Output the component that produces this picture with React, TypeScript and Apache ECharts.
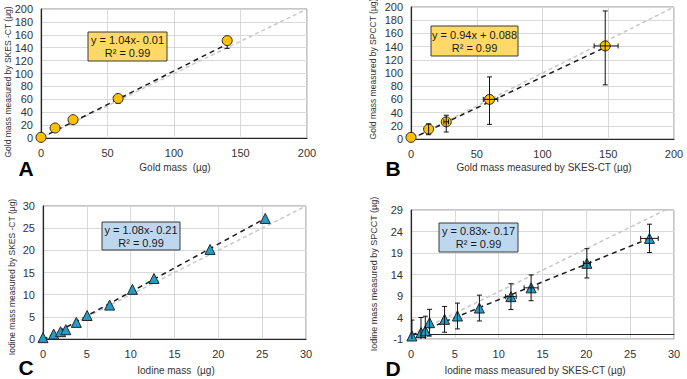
import React, { useEffect, useRef } from "react";
import * as echarts from "echarts";

// ---------- data ----------
// Panel A: gold mass vs SKES-CT
const aX = [0, 10.6, 24.1, 58, 140];
const aY = [1, 15.5, 28.4, 61.3, 151];
const aYLow = [1, 15.5, 28.4, 54, 139];
const aYHigh = [1, 15.5, 28.4, 61.3, 151];
const aTrend = [[0, -0.01], [140, 145.6]];
const aIdentity = [[0, 0], [200, 200]];

// Panel B: SKES-CT vs SPCCT (gold)
const bX = [0, 13.4, 26.8, 59.7, 147.7];
const bY = [2.5, 15, 26, 60, 141];
const bYLow = [2.5, 6.5, 10.6, 22.2, 82];
const bYHigh = [2.5, 23, 36, 94, 194];
const bXLow = [0, 13.4, 25, 55, 139.3];
const bXHigh = [0, 13.4, 28.5, 66, 157.5];
const bTrend = [[0, 0.09], [147.7, 138.9]];
const bIdentity = [[0, 0], [200, 200]];

// Panel C: iodine mass vs SKES-CT
const cX = [0, 1.22, 2.0, 2.6, 3.8, 5.03, 7.6, 10.2, 12.66, 19.06, 25.35];
const cY = [0.3, 1.1, 1.65, 2.1, 3.75, 5.3, 7.65, 11.2, 13.65, 20.2, 27.2];
const cTrend = [[0, -0.21], [25.35, 27.2]];
const cIdentity = [[0, 0], [30, 30]];

// Panel D: SKES-CT vs SPCCT (iodine)
const dX = [0.1, 1.14, 1.63, 2.12, 3.83, 5.3, 7.8, 11.4, 13.7, 20.06, 27.2];
const dY = [-0.3, 0.5, 0.9, 2.8, 3.57, 4.35, 6.2, 8.85, 10.9, 16.6, 22.4];
const dYErr = [3.7, 3.5, 3.4, 3.1, 3, 3, 3, 3, 3, 3.4, 3.3];
const dXErr = [0, 0, 0, 0, 0, 0, 0, 0.6, 0.8, 0.4, 1.0];
const dTrend = [[0.1, -0.09], [27.2, 22.4]];
const dIdentity = [[0, 0], [30, 30]];

// axis ticks
const goldTicks = { min: 0, max: 200, xInterval: 50, yInterval: 20 };
const iodineTicksC = { min: 0, max: 30, xInterval: 5, yInterval: 5 };
const iodineTicksD = { xMin: 0, xMax: 30, yMin: -1, yMax: 29, interval: 5 };

const FONT = "'Liberation Sans', Arial, sans-serif";
const GOLD = "#FFC000";
const BLUE = "#259BC8";

export default function App() {
  const ref = useRef<HTMLDivElement>(null);

  useEffect(() => {
    if (!ref.current) return;
    const chart = echarts.init(ref.current, undefined, { renderer: "svg" });

    const grids = [
      { left: 41, top: 9, width: 266, height: 129 },
      { left: 411, top: 7, width: 263, height: 132 },
      { left: 43, top: 206, width: 263, height: 133 },
      { left: 411, top: 210, width: 263, height: 129 },
    ].map((g) => ({ ...g, show: true, borderColor: "#8c8c8c", borderWidth: 1, backgroundColor: "transparent" }));

    const axisCommon = (gridIndex: number, min: number, max: number, interval: number, isX: boolean) => ({
      type: "value",
      gridIndex,
      min,
      max,
      interval,
      axisLine: { show: true, onZero: true, lineStyle: { color: "#262626", width: 1.2 } },
      axisTick: { show: false },
      splitLine: { show: true, lineStyle: { color: "#d9d9d9", width: 1 } },
      axisLabel: { color: "#333", fontSize: 11, fontFamily: FONT, margin: isX ? 9 : 8 },
    });

    const xAxis = [
      axisCommon(0, goldTicks.min, goldTicks.max, goldTicks.xInterval, true),
      axisCommon(1, goldTicks.min, goldTicks.max, goldTicks.xInterval, true),
      axisCommon(2, iodineTicksC.min, iodineTicksC.max, iodineTicksC.xInterval, true),
      axisCommon(3, iodineTicksD.xMin, iodineTicksD.xMax, iodineTicksD.interval, true),
    ];
    const yAxis = [
      axisCommon(0, goldTicks.min, goldTicks.max, goldTicks.yInterval, false),
      axisCommon(1, goldTicks.min, goldTicks.max, goldTicks.yInterval, false),
      axisCommon(2, iodineTicksC.min, iodineTicksC.max, iodineTicksC.yInterval, false),
      axisCommon(3, iodineTicksD.yMin, iodineTicksD.yMax, iodineTicksD.interval, false),
    ];

    const zip = (xs: number[], ys: number[]) => xs.map((x, i) => [x, ys[i]]);

    const lineSeries = (idx: number, data: number[][], color: string, width: number, dash: number[], z: number) => ({
      type: "line",
      xAxisIndex: idx,
      yAxisIndex: idx,
      data,
      symbol: "none",
      clip: true,
      silent: true,
      z,
      lineStyle: { color, width, type: dash },
    });

    const scatter = (idx: number, data: number[][], symbol: string, color: string, size: number) => ({
      type: "scatter",
      xAxisIndex: idx,
      yAxisIndex: idx,
      data,
      symbol,
      symbolSize: size,
      z: 5,
      itemStyle: { color, borderColor: "#262626", borderWidth: 1, opacity: 1 },
    });

    const errSeries = (idx: number, data: number[][], yMin: number, z: number) => ({
      type: "custom",
      xAxisIndex: idx,
      yAxisIndex: idx,
      data,
      clip: true,
      z,
      silent: true,
      encode: { x: 0, y: 1 },
      renderItem: (params: any, api: any) => {
        const x = api.value(0);
        const y = api.value(1);
        const rawLow = api.value(2);
        const yl = Math.max(rawLow, yMin);
        const yh = api.value(3);
        const xl = api.value(4);
        const xh = api.value(5);
        const children: any[] = [];
        const st = { stroke: "#111", lineWidth: 1 };
        const cap = 2.5;
        if (yh > yl) {
          const p1 = api.coord([x, yl]);
          const p2 = api.coord([x, yh]);
          children.push({ type: "line", shape: { x1: p1[0], y1: p1[1], x2: p2[0], y2: p2[1] }, style: st });
          if (yh > y)
            children.push({ type: "line", shape: { x1: p2[0] - cap, y1: p2[1], x2: p2[0] + cap, y2: p2[1] }, style: st });
          if (rawLow >= yMin && rawLow < y)
            children.push({ type: "line", shape: { x1: p1[0] - cap, y1: p1[1], x2: p1[0] + cap, y2: p1[1] }, style: st });
        }
        if (xh > xl) {
          const p1 = api.coord([xl, y]);
          const p2 = api.coord([xh, y]);
          children.push({ type: "line", shape: { x1: p1[0], y1: p1[1], x2: p2[0], y2: p2[1] }, style: st });
          children.push({ type: "line", shape: { x1: p1[0], y1: p1[1] - cap, x2: p1[0], y2: p1[1] + cap }, style: st });
          children.push({ type: "line", shape: { x1: p2[0], y1: p2[1] - cap, x2: p2[0], y2: p2[1] + cap }, style: st });
        }
        return { type: "group", children };
      },
    });

    const aErr = aX.map((x, i) => [x, aY[i], aYLow[i], aYHigh[i], x, x]);
    const bErr = bX.map((x, i) => [x, bY[i], bYLow[i], bYHigh[i], bXLow[i], bXHigh[i]]);
    const dErr = dX.map((x, i) => [x, dY[i], dY[i] - dYErr[i], dY[i] + dYErr[i], x - dXErr[i], x + dXErr[i]]);

    const series = [
      lineSeries(0, aIdentity, "#c8c8c8", 1.5, [4, 3], 2),
      lineSeries(0, aTrend, "#1a1a1a", 1.5, [5, 4], 3),
      errSeries(0, aErr, 0, 4),
      scatter(0, zip(aX, aY), "circle", GOLD, 10),

      lineSeries(1, bIdentity, "#c8c8c8", 1.5, [4, 3], 2),
      lineSeries(1, bTrend, "#1a1a1a", 1.5, [5, 4], 3),
      scatter(1, zip(bX, bY), "circle", GOLD, 10),
      errSeries(1, bErr, 0, 6),

      lineSeries(2, cIdentity, "#c8c8c8", 1.5, [4, 3], 2),
      lineSeries(2, cTrend, "#1a1a1a", 1.5, [5, 4], 3),
      scatter(2, zip(cX, cY), "triangle", BLUE, 10),

      lineSeries(3, dIdentity, "#c8c8c8", 1.5, [4, 3], 2),
      lineSeries(3, dTrend, "#1a1a1a", 1.5, [5, 4], 3),
      scatter(3, zip(dX, dY), "triangle", BLUE, 10),
      errSeries(3, dErr, -1, 6),
    ];

    const txt = (text: string, x: number, y: number, size: number, opts: any = {}) => ({
      type: "text",
      x,
      y,
      rotation: opts.rotation || 0,
      z: 20,
      style: {
        text,
        font: `${opts.bold ? "bold " : ""}${size}px ${FONT}`,
        fill: opts.color || "#333",
        textAlign: "center",
        textVerticalAlign: "middle",
        align: "center",
        verticalAlign: "middle",
      },
    });

    const box = (x: number, y: number, w: number, h: number, fill: string, line1: string, line2: string) => ({
      type: "group",
      z: 15,
      children: [
        { type: "rect", shape: { x, y, width: w, height: h }, style: { fill, stroke: "#3a3a3a", lineWidth: 1 }, z: 15 },
        txt(line1, x + w / 2, y + h / 2 - 6.5, 11, { color: "#1a1a1a" }),
        txt(line2, x + w / 2, y + h / 2 + 6.5, 11, { color: "#1a1a1a" }),
      ],
    });

    const graphic = [
      // panel letters
      txt("A", 26, 168, 21, { bold: true, color: "#000" }),
      txt("B", 393, 168, 21, { bold: true, color: "#000" }),
      txt("C", 26, 367, 21, { bold: true, color: "#000" }),
      txt("D", 393, 368, 21, { bold: true, color: "#000" }),
      // x axis names
      txt("Gold mass  (µg)", 175, 167, 10),
      txt("Gold mass measured by SKES-CT (µg)", 544, 167, 10),
      txt("Iodine mass  (µg)", 176, 370, 10),
      txt("Iodine mass measured by SKES-CT (µg)", 535, 370, 10),
      // y axis names
      txt("Gold mass measured by SKES -CT (µg)", 7.5, 82, 8.5, { rotation: Math.PI / 2 }),
      txt("Gold mass measured by SPCCT (µg)", 372.5, 69, 8.5, { rotation: Math.PI / 2 }),
      txt("Iodine mass measured by SKES -CT (µg)", 12, 277, 8.5, { rotation: Math.PI / 2 }),
      txt("Iodine mass measured by SPCCT (µg)", 374, 274, 9, { rotation: Math.PI / 2 }),
      // equation boxes
      box(88, 32, 79, 29, "#FFD966", "y = 1.04x- 0.01", "R² = 0.99"),
      box(431, 26, 87, 30, "#FFD966", "y = 0.94x + 0.088", "R² = 0.99"),
      box(102, 222, 78, 28, "#BDD7EE", "y = 1.08x- 0.21", "R² = 0.99"),
      box(439, 223, 79, 29, "#BDD7EE", "y = 0.83x- 0.17", "R² = 0.99"),
    ];

    chart.setOption({
      animation: false,
      backgroundColor: "#ffffff",
      grid: grids,
      xAxis,
      yAxis,
      series,
      graphic,
    });

    return () => chart.dispose();
  }, []);

  return (
    <div
      ref={ref}
      style={{ position: "absolute", left: 0, top: 0, width: 687, height: 379 }}
    />
  );
}
